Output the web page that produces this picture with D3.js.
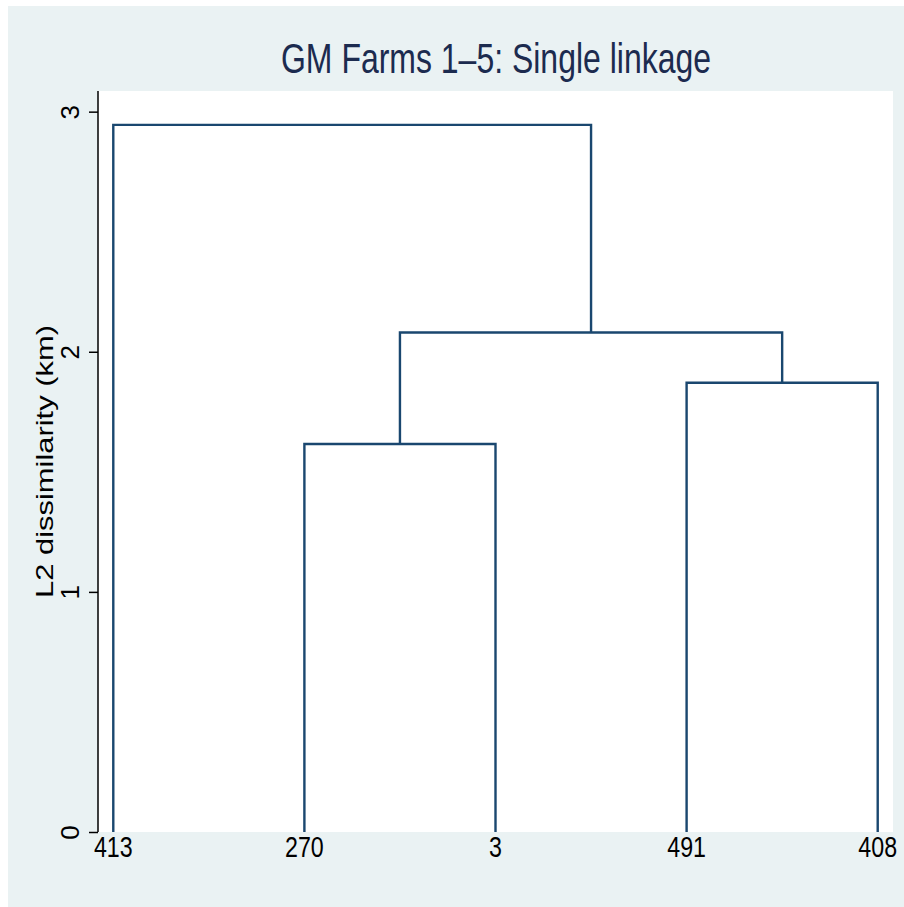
<!DOCTYPE html>
<html><head><meta charset="utf-8">
<script src="https://cdn.jsdelivr.net/npm/d3@7"></script>
<style>html,body{margin:0;padding:0;background:#fff;}</style>
</head><body>
<script>
// ---- data ----
const title = "GM Farms 1\u20135: Single linkage";
const yTitle = "L2 dissimilarity (km)";
const leaves = ["413", "270", "3", "491", "408"];
// merges: [left child, right child, height]; children are leaf labels or merge ids
const mergeIds = ["m0", "m1", "m2", "m3"];
const mergeLeft = ["270", "491", "m0", "413"];
const mergeRight = ["3", "408", "m1", "m2"];
const mergeHeight = [1.616, 1.871, 2.080, 2.945];
const yTicks = [0, 1, 2, 3];
const yAxisMax = 3.086;

// ---- layout ----
const W = 904, H = 907;
const plot = {left: 98, top: 91, right: 893, bottom: 832};
const navy = "#1a476f";

const svg = d3.select("body").append("svg").attr("width", W).attr("height", H);
svg.append("rect").attr("x", 8).attr("y", 6).attr("width", W - 8).attr("height", H - 6).attr("fill", "#eaf2f3");
svg.append("rect").attr("x", plot.left).attr("y", plot.top)
  .attr("width", plot.right - plot.left).attr("height", plot.bottom - plot.top).attr("fill", "#fff");

const x = d3.scalePoint().domain(leaves).range([plot.left, plot.right]).padding(0.08);
const y = d3.scaleLinear().domain([0, yAxisMax]).range([plot.bottom, plot.top]);

// positions of nodes
const pos = {};
leaves.forEach(l => pos[l] = {x: x(l), h: 0});
mergeIds.forEach((id, i) => {
  const a = pos[mergeLeft[i]], b = pos[mergeRight[i]];
  pos[id] = {x: (a.x + b.x) / 2, h: mergeHeight[i]};
});

const g = svg.append("g");
mergeIds.forEach((id, i) => {
  const a = pos[mergeLeft[i]], b = pos[mergeRight[i]], hgt = mergeHeight[i];
  const p = d3.path();
  p.moveTo(a.x, y(a.h));
  p.lineTo(a.x, y(hgt));
  p.lineTo(b.x, y(hgt));
  p.lineTo(b.x, y(b.h));
  g.append("path").attr("d", p.toString()).attr("fill", "none")
    .attr("stroke", navy).attr("stroke-width", 2.4).attr("stroke-linejoin", "miter");
});

// y axis
const yAxis = d3.axisLeft(y).tickValues(yTicks).tickSize(9).tickPadding(0).tickFormat(d3.format("d"));
const ya = svg.append("g").attr("transform", `translate(${plot.left},0)`).call(yAxis);
ya.select(".domain").attr("d", `M0,${plot.top}V${plot.bottom}`).attr("stroke", "#000").attr("stroke-width", 1.5);
ya.selectAll(".tick line").attr("stroke", "#000").attr("stroke-width", 1.5);
ya.selectAll(".tick text").attr("x", null).attr("dy", null)
  .attr("transform", "translate(-19,0) rotate(-90)")
  .attr("text-anchor", "middle")
  .attr("font-family", "Liberation Sans, Arial, sans-serif")
  .attr("font-size", 26).attr("fill", "#000");

// x labels
const xl = svg.append("g");
leaves.forEach(l => {
  xl.append("text")
    .attr("transform", `translate(${x(l)},857) scale(0.8,1)`)
    .attr("text-anchor", "middle")
    .attr("font-family", "Liberation Sans, Arial, sans-serif")
    .attr("font-size", 29).attr("fill", "#000").text(l);
});

// title
svg.append("text").attr("x", 496).attr("y", 73)
  .attr("text-anchor", "middle")
  .attr("font-family", "Liberation Sans, Arial, sans-serif")
  .attr("font-size", 43).attr("fill", "#1c2b4f")
  .attr("textLength", 430).attr("lengthAdjust", "spacingAndGlyphs")
  .text(title);

// y title
svg.append("text")
  .attr("transform", `translate(53,461.5) rotate(-90)`)
  .attr("text-anchor", "middle")
  .attr("font-family", "Liberation Sans, Arial, sans-serif")
  .attr("font-size", 24).attr("fill", "#000")
  .attr("textLength", 273).attr("lengthAdjust", "spacingAndGlyphs")
  .text(yTitle);
</script>
</body></html>
